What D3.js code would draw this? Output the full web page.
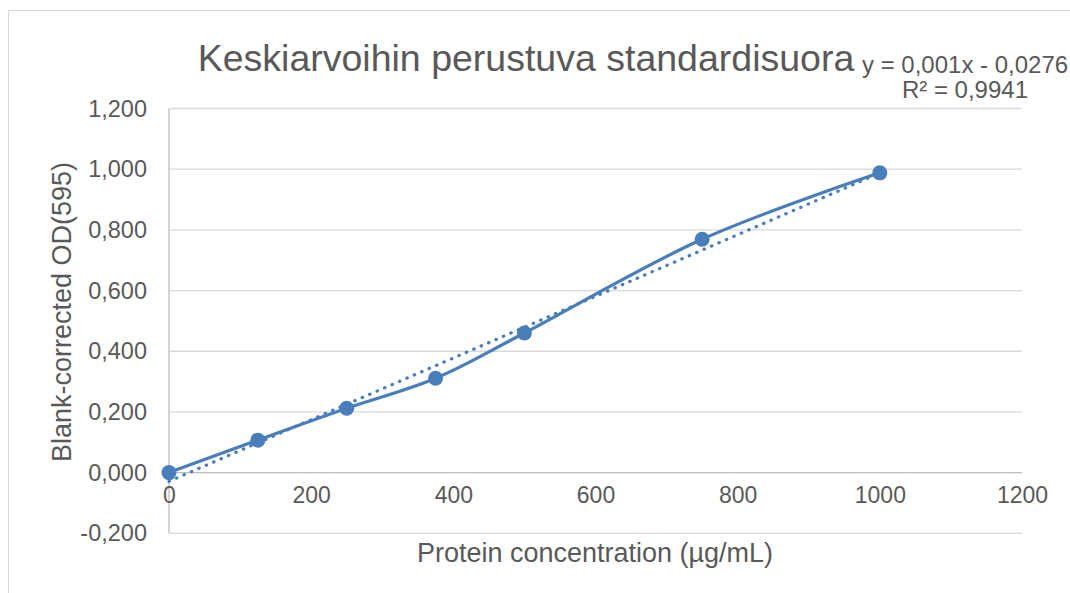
<!DOCTYPE html>
<html>
<head>
<meta charset="utf-8">
<script src="https://cdn.jsdelivr.net/npm/d3@7"></script>
<style>
  body { margin: 0; background: #fff; }
  svg text { font-family: "Liberation Sans", Arial, sans-serif; fill: #595959; }
</style>
</head>
<body>
<svg id="chart" width="1070" height="593"></svg>
<script>
// Standard curve data (averages)
const concentration = [0, 125, 250, 375, 500, 750, 1000];
const odValues = [0, 0.107, 0.212, 0.311, 0.460, 0.769, 0.988];
const xTicks = [0, 200, 400, 600, 800, 1000, 1200];
const yTicks = [-0.2, 0, 0.2, 0.4, 0.6, 0.8, 1.0, 1.2];
const titleText = 'Keskiarvoihin perustuva standardisuora';
const equationText = 'y = 0,001x - 0,0276';
const r2Text = 'R² = 0,9941';

const svg = d3.select('#chart');
const m = {left: 169, right: 1022, top: 108.5, bottom: 533.3};

const fiLocale = d3.formatLocale({decimal: ',', thousands: ' ', grouping: [3], currency: ['', ' €'], minus: '-'});
const fmtY = fiLocale.format('.3f');

const x = d3.scaleLinear().domain([0, 1200]).range([m.left, m.right]);
const y = d3.scaleLinear().domain([-0.2, 1.2]).range([m.bottom, m.top]);

// outer chart border
svg.append('rect')
  .attr('x', 8.5).attr('y', 10.5).attr('width', 1100).attr('height', 620)
  .attr('fill', 'none').attr('stroke', '#d9d9d9').attr('stroke-width', 1);

// horizontal gridlines
svg.append('g').selectAll('line')
  .data(yTicks).enter().append('line')
  .attr('x1', m.left).attr('x2', m.right)
  .attr('y1', d => y(d)).attr('y2', d => y(d))
  .attr('stroke', '#d9d9d9').attr('stroke-width', 1.3);

// vertical axis line
svg.append('line')
  .attr('x1', x(0)).attr('x2', x(0))
  .attr('y1', m.top).attr('y2', m.bottom)
  .attr('stroke', '#bfbfbf').attr('stroke-width', 1.3);

// horizontal axis line at 0
svg.append('line')
  .attr('x1', m.left).attr('x2', m.right)
  .attr('y1', y(0)).attr('y2', y(0))
  .attr('stroke', '#bfbfbf').attr('stroke-width', 1.3);

// y tick labels
const yAxis = svg.append('g')
  .attr('transform', `translate(${m.left},0)`)
  .call(d3.axisLeft(y).tickValues(yTicks).tickFormat(fmtY).tickSize(0).tickPadding(22));
yAxis.select('.domain').remove();
yAxis.selectAll('text').style('font-size', '23.5px').attr('fill', '#595959').style('font-family', '"Liberation Sans", Arial, sans-serif');

// x tick labels (axis crosses at y = 0)
const xAxis = svg.append('g')
  .attr('transform', `translate(0,${y(0)})`)
  .call(d3.axisBottom(x).tickValues(xTicks).tickFormat(d3.format('d')).tickSize(0).tickPadding(14));
xAxis.select('.domain').remove();
xAxis.selectAll('text').style('font-size', '23px').attr('fill', '#595959').style('font-family', '"Liberation Sans", Arial, sans-serif');

// linear trendline (least squares on the data)
const mx = d3.mean(concentration), my = d3.mean(odValues);
const sxy = d3.sum(concentration, (c, i) => (c - mx) * (odValues[i] - my));
const sxx = d3.sum(concentration, c => (c - mx) * (c - mx));
const slope = sxy / sxx, intercept = my - slope * mx;
const xExt = d3.extent(concentration);
svg.append('line')
  .attr('x1', x(xExt[0])).attr('y1', y(intercept + slope * xExt[0]))
  .attr('x2', x(xExt[1])).attr('y2', y(intercept + slope * xExt[1]))
  .attr('stroke', '#4a7ebb').attr('stroke-width', 3.2)
  .attr('stroke-linecap', 'round').attr('stroke-dasharray', '0.5 7.6');

// smoothed series line
const pts = concentration.map((c, i) => [c, odValues[i]]);
const line = d3.line().x(d => x(d[0])).y(d => y(d[1])).curve(d3.curveCardinal.tension(0));
svg.append('path')
  .datum(pts)
  .attr('d', line)
  .attr('fill', 'none').attr('stroke', '#4a7ebb').attr('stroke-width', 3.2)
  .attr('stroke-linecap', 'round');

// markers
svg.append('g').selectAll('circle')
  .data(pts).enter().append('circle')
  .attr('cx', d => x(d[0])).attr('cy', d => y(d[1]))
  .attr('r', 7.5).attr('fill', '#4a7ebb');

// title
svg.append('text')
  .attr('x', 526).attr('y', 71)
  .attr('text-anchor', 'middle')
  .style('font-size', '37.5px')
  .text(titleText);

// trendline equation
svg.append('text')
  .attr('x', 862).attr('y', 73)
  .style('font-size', '24px')
  .text(equationText);
svg.append('text')
  .attr('x', 1028).attr('y', 98)
  .attr('text-anchor', 'end')
  .style('font-size', '24px')
  .text(r2Text);

// axis titles
svg.append('text')
  .attr('x', 595).attr('y', 562)
  .attr('text-anchor', 'middle')
  .style('font-size', '27px')
  .text('Protein concentration (µg/mL)');
svg.append('text')
  .attr('transform', 'translate(71,312) rotate(-90)')
  .attr('text-anchor', 'middle')
  .style('font-size', '27px')
  .text('Blank-corrected OD(595)');
</script>
</body>
</html>
